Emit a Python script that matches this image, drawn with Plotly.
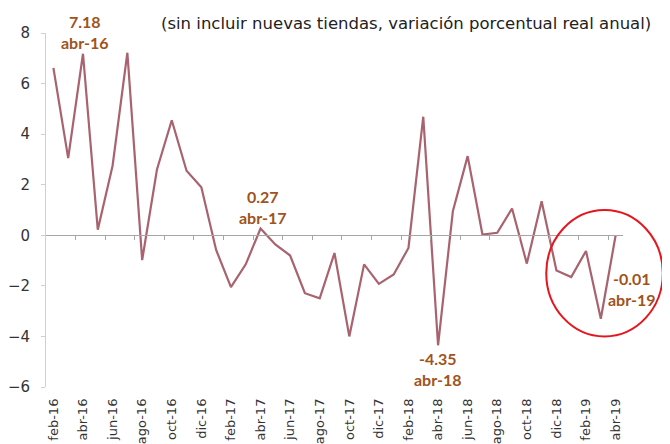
import plotly.graph_objects as go

months = ["feb-16", "mar-16", "abr-16", "may-16", "jun-16", "jul-16", "ago-16", "sep-16", "oct-16", "nov-16", "dic-16",
          "ene-17", "feb-17", "mar-17", "abr-17", "may-17", "jun-17", "jul-17", "ago-17", "sep-17", "oct-17", "nov-17", "dic-17",
          "ene-18", "feb-18", "mar-18", "abr-18", "may-18", "jun-18", "jul-18", "ago-18", "sep-18", "oct-18", "nov-18", "dic-18",
          "ene-19", "feb-19", "mar-19", "abr-19"]
values = [6.62, 3.05, 7.18, 0.22, 2.75, 7.22, -0.98, 2.6, 4.55, 2.55, 1.9,
          -0.58, -2.05, -1.15, 0.27, -0.36, -0.8, -2.29, -2.49, -0.7, -4.0, -1.15, -1.92,
          -1.55, -0.5, 4.69, -4.35, 0.95, 3.13, 0.03, 0.1, 1.06, -1.12, 1.35, -1.39,
          -1.65, -0.62, -3.3, -0.01]
label_months = months[::2]
highlight = ["abr-16", "abr-17", "abr-18", "abr-19"]
subtitle = "(sin incluir nuevas tiendas, variación porcentual real anual)"
y_ticks = [-6, -4, -2, 0, 2, 4, 6, 8]

idx = list(range(len(months)))
label_idx = [months.index(m) for m in label_months]
between_idx = [i + 0.5 for i in range(1, len(months) - 1, 2)]

FONT = "DejaVu Sans"
LINE = "#A8636F"
ANN = "#A0531C"

fig = go.Figure()
fig.add_trace(go.Scatter(x=idx, y=values, mode="lines", line=dict(color=LINE, width=2.2),
                         hoverinfo="skip", showlegend=False))
fig.add_trace(go.Scatter(x=idx, y=values, mode="lines", line=dict(width=0), opacity=0,
                         xaxis="x2", hoverinfo="skip", showlegend=False))

for m in highlight:
    i = months.index(m)
    v = values[i]
    txt = f"<b>{v:.2f}<br>{m}</b>"
    if m == "abr-16":
        kw = dict(yanchor="bottom", yshift=0, xshift=2)
    elif m == "abr-17":
        kw = dict(yanchor="bottom", yshift=-1, xshift=2)
    elif m == "abr-18":
        kw = dict(yanchor="top", yshift=-2, xshift=0)
    else:
        kw = dict(yanchor="top", yshift=-31, xshift=16)
    fig.add_annotation(x=i, y=v, xref="x", yref="y", text=txt, showarrow=False,
                       font=dict(family="Lato", size=16, color=ANN), align="center", **kw)

fig.add_annotation(x=1.0, y=1.0, xref="paper", yref="paper", xanchor="right", yanchor="bottom",
                   yshift=-2, xshift=30, text=subtitle, showarrow=False,
                   font=dict(family=FONT, size=16.5, color="#222222"))

fig.add_shape(type="circle", xref="paper", yref="paper", x0=0.867, x1=1.069, y0=0.143, y1=0.50,
              line=dict(color="#E8141C", width=2))

fig.update_layout(
    width=670, height=444,
    margin=dict(l=38, r=55, t=25, b=65),
    paper_bgcolor="white", plot_bgcolor="white",
    xaxis=dict(range=[-0.5, len(months) - 0.5], tickvals=label_idx, ticktext=label_months,
               tickangle=-90, ticks="", showline=False, showgrid=False, zeroline=False,
               automargin=False,
               tickfont=dict(family=FONT, size=13, color="#333333"), ticklabelstandoff=8),
    xaxis2=dict(range=[-0.5, len(months) - 0.5], overlaying="x", anchor="free", position=6 / 14,
                side="bottom", tickvals=between_idx, ticks="outside", ticklen=4, tickcolor="#A6A6A6",
                showticklabels=False, showline=True, linecolor="#A6A6A6", linewidth=1,
                showgrid=False, zeroline=False, automargin=False),
    yaxis=dict(range=[-6, 8], tickvals=y_ticks, showgrid=False, zeroline=False,
               showline=True, linecolor="#D0D0D0", linewidth=1, ticks="outside", ticklen=4,
               tickcolor="#D0D0D0", tickfont=dict(family=FONT, size=15, color="#333333"),
               ticklabelstandoff=8, automargin=False),
)

fig.write_html("out.html")
